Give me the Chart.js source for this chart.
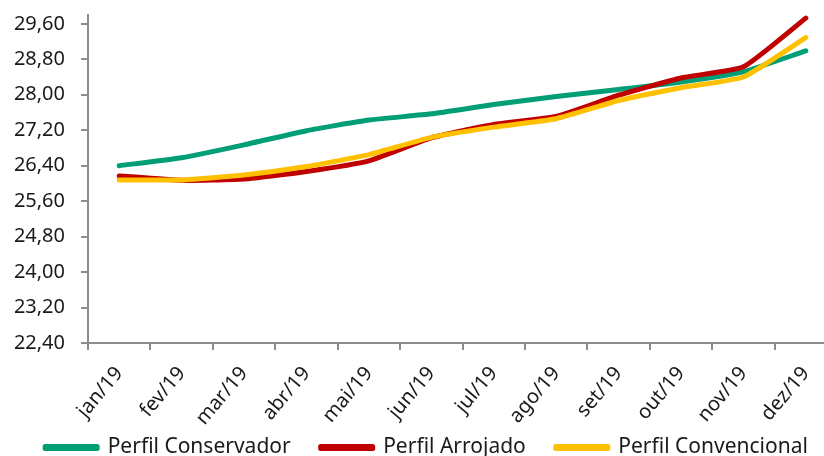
<!DOCTYPE html>
<html>
<head>
<meta charset="utf-8">
<script src="https://cdn.jsdelivr.net/npm/chart.js@4/dist/chart.umd.min.js"></script>
<style>
  html, body { margin: 0; padding: 0; background: #fff; overflow: hidden; }
  #wrap { width: 840px; height: 456px; position: relative; }
</style>
</head>
<body>
<div id="wrap"><canvas id="chart"></canvas></div>
<script>
/* ---------- data ---------- */
const months = ["jan/19", "fev/19", "mar/19", "abr/19", "mai/19", "jun/19",
                "jul/19", "ago/19", "set/19", "out/19", "nov/19", "dez/19"];

const conservador  = [26.40, 26.58, 26.87, 27.19, 27.43, 27.57, 27.78, 27.96, 28.12, 28.29, 28.52, 28.99];
const arrojado     = [26.17, 26.07, 26.10, 26.27, 26.51, 27.03, 27.33, 27.51, 27.99, 28.38, 28.63, 29.73];
const convencional = [26.08, 26.08, 26.19, 26.38, 26.65, 27.04, 27.27, 27.46, 27.87, 28.16, 28.40, 29.29];

const yTicks = [22.40, 23.20, 24.00, 24.80, 25.60, 26.40, 27.20, 28.00, 28.80, 29.60];

/* ---------- style ---------- */
const FONT = { family: "'Noto Sans', sans-serif", size: 20 };
const LEGEND_FONT = { family: "'Noto Sans', sans-serif", size: 21 };
const AXIS_GREY = "#8c8c8c";
const LEGEND_PAD = 30;

function serie(label, data, color, order) {
    return {
        label: label,
        data: data,
        borderColor: color,
        backgroundColor: color,
        borderWidth: 5,
        borderCapStyle: "round",
        borderJoinStyle: "round",
        pointRadius: 0,
        pointHoverRadius: 0,
        tension: 0.15,
        fill: false,
        order: order
    };
}

// legend padding is used for the gap between items, but we don't want
// the same amount below the row -> trim the legend box height.
// x labels are clipped to the axis box, so let that box run to the bottom.
const layoutTweak = {
    id: "layoutTweak",
    afterInit(chart) {
        const lg = chart.legend;
        if (!lg) return;
        const fit = lg.fit;
        lg.fit = function () {
            fit.call(this);
            this.height = LEGEND_FONT.size + LEGEND_PAD;
        };
    },
    afterLayout(chart) {
        chart.scales.x.bottom = chart.height;
        const lg = chart.legend;
        if (lg) {
            lg.left += 8;
            lg.right += 8;
            lg.top += 2;
        }
    }
};

new Chart(document.getElementById("chart"), {
    type: "line",
    data: {
        labels: months,
        datasets: [
            serie("Perfil Conservador", conservador, "#009e76", 3),
            serie("Perfil Arrojado", arrojado, "#c00000", 2),
            serie("Perfil Convencional", convencional, "#ffc000", 1)
        ]
    },
    plugins: [layoutTweak],
    options: {
        responsive: true,
        maintainAspectRatio: false,
        animation: false,
        layout: { padding: { top: 15, right: 3, left: 0, bottom: 0 } },
        plugins: {
            tooltip: { enabled: false },
            legend: {
                position: "bottom",
                labels: {
                    font: LEGEND_FONT,
                    color: "#1a1a1a",
                    boxWidth: 52,
                    boxHeight: 2,
                    padding: LEGEND_PAD,
                    sort: (a, b) => a.datasetIndex - b.datasetIndex
                }
            }
        },
        scales: {
            x: {
                offset: true,
                grid: {
                    offset: true,
                    drawOnChartArea: false,
                    tickLength: 7,
                    color: AXIS_GREY,
                    lineWidth: 2
                },
                border: { color: AXIS_GREY, width: 2 },
                ticks: {
                    font: FONT,
                    color: "#1a1a1a",
                    minRotation: 50,
                    maxRotation: 50,
                    autoSkip: false,
                    padding: 12
                },
                afterFit: (s) => { s.height = 62; s.paddingLeft = 0; s.paddingRight = 0; }
            },
            y: {
                min: 22.40,
                max: 29.80,
                grid: {
                    drawOnChartArea: false,
                    tickLength: 7,
                    color: AXIS_GREY,
                    lineWidth: 2
                },
                border: { color: AXIS_GREY, width: 2 },
                ticks: {
                    font: FONT,
                    color: "#1a1a1a",
                    padding: 16,
                    callback: (v) => Number(v).toFixed(2).replace(".", ",")
                },
                afterBuildTicks: (s) => { s.ticks = yTicks.map(v => ({ value: v })); },
                afterFit: (s) => { s.width = 88; s.paddingTop = 0; s.paddingBottom = 0; }
            }
        }
    }
});
</script>
</body>
</html>
